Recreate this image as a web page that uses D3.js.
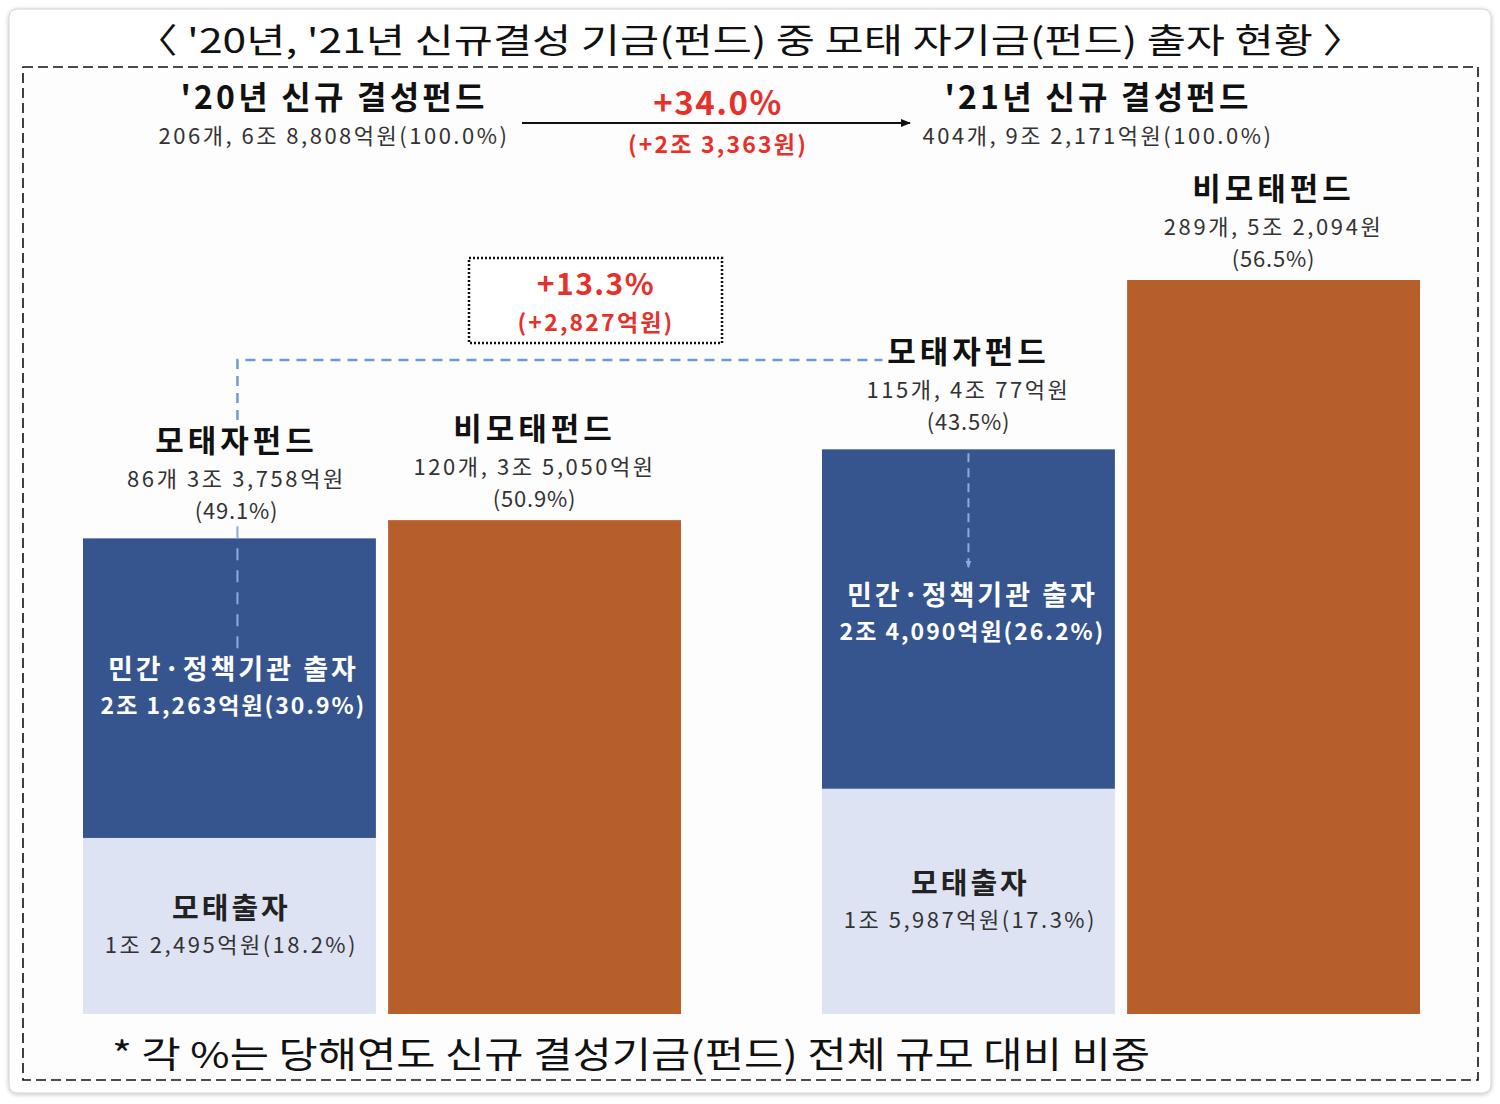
<!DOCTYPE html>
<html>
<head>
<meta charset="utf-8">
<script src="https://cdn.jsdelivr.net/npm/d3@7"></script>
<style>
  body { margin: 0; background: #ffffff; }
  text { font-family: "Noto Sans CJK KR", "Noto Sans", sans-serif; }
</style>
</head>
<body>
<svg id="chart"></svg>
<script>
// values in 억원
let years = ["'20", "'21"];
let keys = ["모태자펀드", "비모태펀드"];
let motaeInvest = [12495, 15987];      // 모태출자
let privateInvest = [21263, 24090];    // 민간·정책기관 출자
let nonMotae = [35050, 52094];         // 비모태펀드

let motaeCountLabels = ["86개 3조 3,758억원", "115개, 4조 77억원"];
let motaeShareLabels = ["(49.1%)", "(43.5%)"];
let nonCountLabels = ["120개, 3조 5,050억원", "289개, 5조 2,094원"];
let nonShareLabels = ["(50.9%)", "(56.5%)"];
let privateLabels = ["2조 1,263억원(30.9%)", "2조 4,090억원(26.2%)"];
let motaeInvestLabels = ["1조 2,495억원(18.2%)", "1조 5,987억원(17.3%)"];
let totalTitles = ["'20년 신규 결성펀드", "'21년 신규 결성펀드"];
let totalLabels = ["206개, 6조 8,808억원(100.0%)", "404개, 9조 2,171억원(100.0%)"];

let width = 1500, height = 1104;
let svg = d3.select("#chart").attr("width", width).attr("height", height);

let defs = svg.append("defs");
defs.append("filter").attr("id", "shadow")
    .append("feDropShadow")
    .attr("dx", 0).attr("dy", 1).attr("stdDeviation", 2)
    .attr("flood-color", "#000").attr("flood-opacity", 0.25);

defs.append("marker")
    .attr("id", "arrowBlack")
    .attr("viewBox", "0 0 10 10")
    .attr("refX", 9).attr("refY", 5)
    .attr("markerWidth", 5).attr("markerHeight", 5)
    .attr("orient", "auto")
    .append("path").attr("d", "M0,1 L10,5 L0,9 z").attr("fill", "#111");

defs.append("marker")
    .attr("id", "arrowBlue")
    .attr("viewBox", "0 0 10 10")
    .attr("refX", 9).attr("refY", 5)
    .attr("markerWidth", 7).attr("markerHeight", 7)
    .attr("markerUnits", "userSpaceOnUse")
    .attr("orient", "auto")
    .append("path").attr("d", "M0,1 L10,5 L0,9 z").attr("fill", "#8ea9dc");

// frame
svg.append("rect")
    .attr("x", 9).attr("y", 9)
    .attr("width", 1482).attr("height", 1084)
    .attr("rx", 8)
    .attr("fill", "#ffffff")
    .attr("stroke", "#d2d2d2")
    .attr("filter", "url(#shadow)");

svg.append("rect")
    .attr("x", 23).attr("y", 67)
    .attr("width", 1455).attr("height", 1013)
    .attr("fill", "#fdfdfd")
    .attr("stroke", "#111")
    .attr("stroke-width", 1.6)
    .attr("stroke-dasharray", "10,5");

svg.append("text")
    .attr("x", 750).attr("y", 53)
    .attr("text-anchor", "middle")
    .attr("font-size", 34)
    .attr("fill", "#111")
    .attr("textLength", 1230)
    .attr("lengthAdjust", "spacingAndGlyphs")
    .text("〈 '20년, '21년  신규결성  기금(펀드)  중  모태  자기금(펀드)  출자  현황 〉");

// scales
let x0 = d3.scaleBand()
    .domain(years)
    .range([83, 1420])
    .paddingInner(0.1908);

let x1 = d3.scaleBand()
    .domain(keys)
    .range([0, x0.bandwidth()])
    .paddingInner(0.04);

let y = d3.scaleLinear()
    .domain([0, 52094])
    .range([1014, 280]);

let rows = years.map(function(yr, i) {
    return { year: yr, motae: motaeInvest[i], priv: privateInvest[i] };
});

let stackedData = d3.stack().keys(["motae", "priv"])(rows);
let segColor = { motae: "#dde3f2", priv: "#36558f" };

let bars = svg.append("g");

bars.selectAll(".stackLayer")
    .data(stackedData)
    .join("g")
    .attr("fill", function(d) { return segColor[d.key]; })
    .selectAll("rect")
    .data(function(d) { return d; })
    .join("rect")
    .attr("x", function(d) { return x0(d.data.year) + x1("모태자펀드"); })
    .attr("y", function(d) { return y(d[1]); })
    .attr("width", x1.bandwidth())
    .attr("height", function(d) { return y(d[0]) - y(d[1]); });

bars.selectAll(".nonBar")
    .data(years)
    .join("rect")
    .attr("class", "nonBar")
    .attr("x", function(d) { return x0(d) + x1("비모태펀드"); })
    .attr("y", function(d, i) { return y(nonMotae[i]); })
    .attr("width", x1.bandwidth())
    .attr("height", function(d, i) { return y(0) - y(nonMotae[i]); })
    .attr("fill", "#b75f2b");

function cx(yr, key) { return x0(yr) + x1(key) + x1.bandwidth() / 2; }

// blue dashed connector
let blue = "#6b9bd6";
let xa = cx("'20", "모태자펀드") + 8;
let xb = cx("'21", "모태자펀드");
let topA = y(motaeInvest[0] + privateInvest[0]);
let topB = y(motaeInvest[1] + privateInvest[1]);

svg.append("path")
    .attr("d", `M${xa},420 V360 H${xb - 86}`)
    .attr("fill", "none")
    .attr("stroke", blue)
    .attr("stroke-width", 2.5)
    .attr("stroke-dasharray", "10,7");

svg.append("line")
    .attr("x1", xa).attr("x2", xa)
    .attr("y1", topA - 12).attr("y2", topA + 112)
    .attr("stroke", "#8ea9dc")
    .attr("stroke-width", 2)
    .attr("stroke-dasharray", "12,10");

svg.append("line")
    .attr("x1", xb).attr("x2", xb)
    .attr("y1", topB + 4).attr("y2", topB + 118)
    .attr("stroke", "#8ea9dc")
    .attr("stroke-width", 2)
    .attr("stroke-dasharray", "9,6")
    .attr("marker-end", "url(#arrowBlue)");

// stacked label lines, each line its own text
function addLines(x, lines) {
    lines.forEach(function(l) {
        svg.append("text")
            .attr("x", x).attr("y", l.y)
            .attr("text-anchor", "middle")
            .attr("font-size", l.size)
            .attr("font-weight", l.weight)
            .attr("fill", l.color)
            .attr("letter-spacing", l.ls || 0)
            .text(l.text);
    });
}

years.forEach(function(yr, i) {
    let mx = cx(yr, "모태자펀드");
    let nx = cx(yr, "비모태펀드");
    let mTop = y(motaeInvest[i] + privateInvest[i]);
    let nTop = y(nonMotae[i]);
    let mxLabel = i == 0 ? mx + 7 : mx;

    addLines(mxLabel, [
        { y: mTop - 86, text: "모태자펀드", size: 31, weight: 700, color: "#111", ls: 4 },
        { y: mTop - 51, text: motaeCountLabels[i], size: 22, weight: 400, color: "#333", ls: 2.6 },
        { y: mTop - 19, text: motaeShareLabels[i], size: 22, weight: 400, color: "#333", ls: 0.8 }
    ]);

    addLines(nx, [
        { y: nTop - 80, text: "비모태펀드", size: 31, weight: 700, color: "#111", ls: 4 },
        { y: nTop - 45, text: nonCountLabels[i], size: 22, weight: 400, color: "#333", ls: 2.6 },
        { y: nTop - 13, text: nonShareLabels[i], size: 22, weight: 400, color: "#333", ls: 0.8 }
    ]);

    let privMid = (y(motaeInvest[i] + privateInvest[i]) + y(motaeInvest[i])) / 2;
    let pShift = i == 1 ? -5 : 0;
    addLines(mx + 4, [
        { y: privMid - 9 + pShift, text: "민간·정책기관 출자", size: 27, weight: 700, color: "#ffffff", ls: 3 },
        { y: privMid + 26 + pShift, text: privateLabels[i], size: 23, weight: 700, color: "#ffffff", ls: 2 }
    ]);

    let motaeMid = (y(motaeInvest[i]) + y(0)) / 2;
    addLines(mx + 2, [
        { y: motaeMid - 7, text: "모태출자", size: 29, weight: 700, color: "#222", ls: 3 },
        { y: motaeMid + 27, text: motaeInvestLabels[i], size: 22, weight: 400, color: "#333", ls: 2.5 }
    ]);
});

// top totals
let headX = [334, 1098];
years.forEach(function(yr, i) {
    addLines(headX[i], [
        { y: 109, text: totalTitles[i], size: 32, weight: 700, color: "#111", ls: 3.2 },
        { y: 144, text: totalLabels[i], size: 22, weight: 400, color: "#333", ls: 2.5 }
    ]);
});

svg.append("line")
    .attr("x1", 522).attr("x2", 910)
    .attr("y1", 123).attr("y2", 123)
    .attr("stroke", "#111")
    .attr("stroke-width", 2)
    .attr("marker-end", "url(#arrowBlack)");

let red = "#e8302a";
addLines(718, [
    { y: 115, text: "+34.0%", size: 33, weight: 700, color: red, ls: 1.5 },
    { y: 153, text: "(+2조 3,363원)", size: 23, weight: 700, color: red, ls: 2.2 }
]);

// growth box
svg.append("rect")
    .attr("x", 469).attr("y", 258)
    .attr("width", 253).attr("height", 85)
    .attr("fill", "#ffffff")
    .attr("stroke", "#111")
    .attr("stroke-width", 2.5)
    .attr("stroke-dasharray", "2,2");

addLines(596, [
    { y: 295, text: "+13.3%", size: 30, weight: 700, color: red, ls: 1.5 },
    { y: 331, text: "(+2,827억원)", size: 23, weight: 700, color: red, ls: 2.2 }
]);

// footnote
svg.append("text")
    .attr("x", 112).attr("y", 1068)
    .attr("font-size", 36)
    .attr("fill", "#111")
    .attr("textLength", 1038)
    .attr("lengthAdjust", "spacingAndGlyphs")
    .text("* 각 %는 당해연도 신규 결성기금(펀드) 전체 규모 대비 비중");
</script>
</body>
</html>
